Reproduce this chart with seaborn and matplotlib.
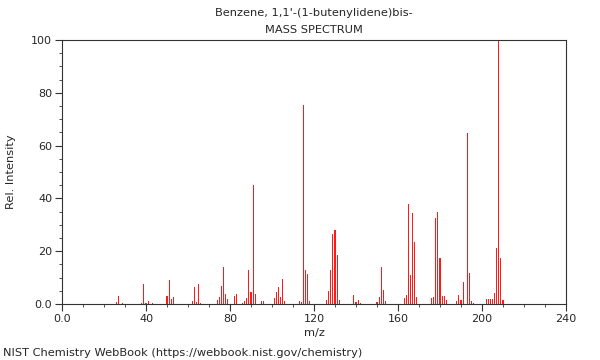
"""
plot.py - NIST mass spectrum of Benzene, 1,1'-(1-butenylidene)bis- drawn as stick bars.
"""

import matplotlib
matplotlib.use("Agg")
import matplotlib.pyplot as plt
from matplotlib.ticker import MultipleLocator, FuncFormatter
import seaborn as sns
import pandas as pd

# === DATA ===
mz = [26, 27, 29, 38, 39, 40, 41, 43,
      50, 51, 52, 53, 62, 63, 64, 65, 66,
      74, 75, 76, 77, 78, 79, 82, 83, 86, 87, 88, 89, 90, 91, 92, 95, 96,
      101, 102, 103, 104, 105, 106, 113, 114, 115, 116, 117, 118,
      126, 127, 128, 129, 130, 131, 132, 139, 140, 141, 142,
      150, 151, 152, 153, 154, 163, 164, 165, 166, 167, 168, 169,
      176, 177, 178, 179, 180, 181, 182, 183, 188, 189, 190, 191,
      193, 194, 195, 196, 202, 203, 204, 205, 206, 207, 208, 209, 210]
intensity = [0.7, 3.0, 0.5, 0.5, 7.6, 0.4, 1.0, 0.5,
             3.2, 9.2, 2.0, 2.8, 1.1, 6.6, 0.9, 7.6, 0.4,
             1.6, 2.7, 6.7, 13.9, 3.8, 1.9, 2.9, 3.7, 0.4, 1.1, 2.4, 12.9, 4.5, 45.1, 3.8, 1.1, 1.1,
             2.3, 4.5, 6.3, 2.7, 9.3, 1.1, 1.0, 0.8, 75.5, 12.9, 11.2, 1.1,
             1.5, 5.1, 12.9, 26.6, 28.0, 18.4, 1.6, 3.4, 0.8, 1.5, 0.4,
             0.8, 2.5, 14.0, 5.3, 1.0, 2.4, 3.3, 38.0, 10.9, 34.6, 23.5, 2.7,
             2.3, 2.7, 32.6, 34.8, 17.3, 3.0, 3.0, 1.6, 1.0, 3.4, 1.6, 8.3,
             64.9, 11.8, 1.1, 0.4, 2.0, 2.0, 2.0, 2.0, 4.2, 21.2, 100.0, 17.3, 1.4]

TITLE = "Benzene, 1,1'-(1-butenylidene)bis-"
SUBTITLE = "MASS SPECTRUM"
FOOTER = "NIST Chemistry WebBook (https://webbook.nist.gov/chemistry)"

df = pd.DataFrame({"mz": mz, "intensity": intensity})

# === STYLE ===
sns.set_style("ticks")
plt.rcParams['font.family'] = ['DejaVu Sans']
FS = 8.2
AXIS_COLOR = '#333333'

fig = plt.figure(figsize=(6, 3.6), dpi=100)
ax = fig.add_axes([62 / 600, 1 - 304 / 360, 504 / 600, 264 / 360])

sns.barplot(data=df, x="mz", y="intensity", native_scale=True, width=0.5,
            color="#ff1a1a", saturation=1, linewidth=0, ax=ax)

ax.set_xlim(0, 240)
ax.set_ylim(0, 100)
ax.xaxis.set_major_locator(MultipleLocator(40))
ax.xaxis.set_minor_locator(MultipleLocator(10))
ax.yaxis.set_major_locator(MultipleLocator(20))
ax.yaxis.set_minor_locator(MultipleLocator(5))
fmt = FuncFormatter(lambda v, p: "0.0" if v == 0 else f"{v:.0f}")
ax.xaxis.set_major_formatter(fmt)
ax.yaxis.set_major_formatter(fmt)

ax.tick_params(which='major', direction='out', length=5, width=0.8,
               color=AXIS_COLOR, labelsize=8, pad=2)
ax.tick_params(which='minor', direction='out', length=2.5, width=0.6,
               color=AXIS_COLOR)
for s in ax.spines.values():
    s.set_visible(True)
    s.set_color(AXIS_COLOR)
    s.set_linewidth(0.8)

ax.set_xlabel("m/z", fontsize=FS)
ax.set_ylabel("Rel. Intensity", fontsize=FS)
ax.xaxis.set_label_coords(0.5, -(328 - 304) / 264)
ax.yaxis.set_label_coords(-(62 - 16) / 504, 0.5)

cx = (62 + 566) / 2 / 600
fig.text(cx, 1 - 13 / 360, TITLE, ha='center', va='center', fontsize=FS)
fig.text(cx, 1 - 30 / 360, SUBTITLE, ha='center', va='center', fontsize=FS)
fig.text(3 / 600, 1 - 353 / 360, FOOTER, ha='left', va='center', fontsize=FS)

fig.savefig("out.png", dpi=100)
